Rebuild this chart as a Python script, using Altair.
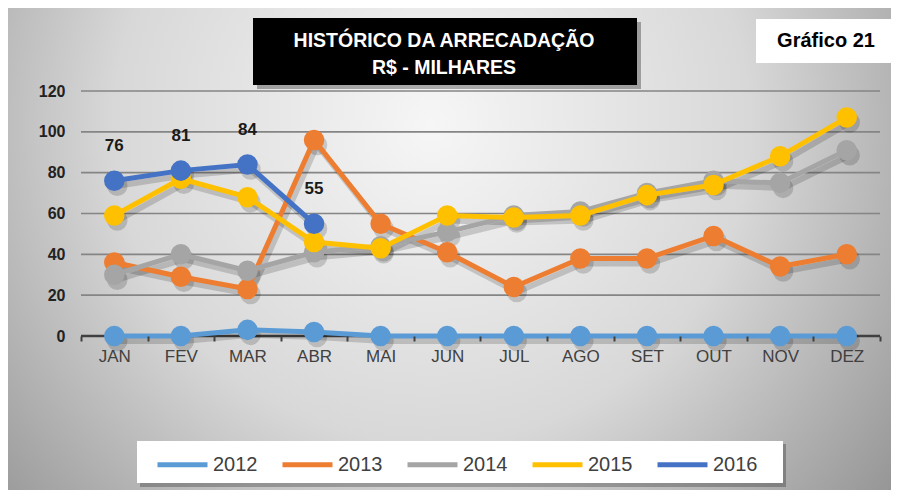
import altair as alt
import pandas as pd

months = ["JAN", "FEV", "MAR", "ABR", "MAI", "JUN", "JUL", "AGO", "SET", "OUT", "NOV", "DEZ"]
years = ["2012", "2013", "2014", "2015", "2016"]
colors = ["#5B9BD5", "#ED7D31", "#A5A5A5", "#FFC000", "#4472C4"]
v2012 = [0, 0, 3, 2, 0, 0, 0, 0, 0, 0, 0, 0]
v2013 = [36, 29, 23, 96, 55, 41, 24, 38, 38, 49, 34, 40]
v2014 = [30, 40, 32, 41, 44, 51, 59, 61, 70, 76, 75, 91]
v2015 = [59, 77, 68, 46, 43, 59, 58, 59, 69, 74, 88, 107]
v2016 = [76, 81, 84, 55]
y_ticks = [0, 20, 40, 60, 80, 100, 120]
title_lines = ["HISTÓRICO DA ARRECADAÇÃO", "R$ - MILHARES"]
badge_text = "Gráfico 21"

series = [v2012, v2013, v2014, v2015, v2016]
rows = []
for yr, vals in zip(years, series):
    for m, v in zip(months, vals):
        rows.append({"month": m, "value": v, "year": yr})
df = pd.DataFrame(rows)
one = pd.DataFrame({"k": [0]})
grid_df = pd.DataFrame({"value": y_ticks[1:]})
zero_df = pd.DataFrame({"value": y_ticks[:1]})

FONT = "Liberation Sans"

xenc = alt.X("month:N", sort=months,
             scale=alt.Scale(type="band", domain=months, paddingInner=0, paddingOuter=0),
             axis=alt.Axis(title=None, tickBand="extent", labelFontSize=17, labelColor="#404040",
                           labelPadding=7, tickSize=5, tickColor="#404040", tickWidth=2,
                           domain=False, labelAngle=0, grid=False, zindex=1))
yscale = alt.Scale(domain=[0, 120], nice=False)
yaxis = alt.Axis(title=None, values=y_ticks, grid=False,
                 domain=False, ticks=False, labelFontSize=16, labelFontWeight="bold",
                 labelColor="#222222", labelPadding=16, zindex=1)
yenc = alt.Y("value:Q", scale=yscale, axis=yaxis)

color_scale = alt.Scale(domain=years, range=colors)
legend = alt.Legend(orient="none", legendX=74, legendY=346, direction="horizontal", columns=5,
                    symbolType="stroke", symbolSize=2500, symbolStrokeWidth=5, labelFontSize=20,
                    labelColor="#404040", labelFont=FONT, columnPadding=14, labelOffset=3,
                    padding=0, title=None, symbolOpacity=1)
cenc = alt.Color("year:N", scale=color_scale, legend=legend)

bg = alt.Chart(one).mark_rect(
    color=alt.RadialGradient(gradient="radial", x1=0.48, y1=0.36, x2=0.48, y2=0.36, r1=0, r2=0.72,
                             stops=[alt.GradientStop(offset=0, color="#f6f6f6"),
                                    alt.GradientStop(offset=0.5, color="#d8d8d8"),
                                    alt.GradientStop(offset=1, color="#8a8a8a")])
).encode(x=alt.value(-73), x2=alt.value(810), y=alt.value(-83), y2=alt.value(399))

grid = alt.Chart(grid_df).mark_rule(color="#858585", strokeWidth=1.6).encode(y=yenc)
zero = alt.Chart(zero_df).mark_rule(color="#404040", strokeWidth=2.5).encode(y=yenc)

base = alt.Chart(df).encode(x=xenc, y=yenc)

shadow_line = base.mark_line(color="black", opacity=0.16, strokeWidth=6, xOffset=3, yOffset=5).encode(
    detail="year:N")
shadow_pt = base.mark_circle(color="black", opacity=0.16, size=420, xOffset=3, yOffset=5)

layers = [shadow_line, shadow_pt]
for yr in years:
    sub = base.transform_filter(alt.datum.year == yr)
    layers.append(sub.mark_line(strokeWidth=5).encode(color=cenc))
    layers.append(sub.mark_circle(size=420, opacity=1).encode(color=cenc))

labels = base.transform_filter(alt.datum.year == "2016").mark_text(
    dy=-35, fontSize=17, fontWeight="bold", color="#1a1a1a", font=FONT
).encode(text=alt.Text("value:Q"))
layers.append(labels)

# title box
title_shadow = alt.Chart(one).mark_rect(color="black", opacity=0.3).encode(
    x=alt.value(176), x2=alt.value(560), y=alt.value(-69), y2=alt.value(-2))
title_box = alt.Chart(one).mark_rect(color="black").encode(
    x=alt.value(172), x2=alt.value(556), y=alt.value(-73), y2=alt.value(-6))
t1 = alt.Chart(one).mark_text(text=title_lines[0], color="white", fontSize=19.5, fontWeight="bold",
                              font=FONT, align="center", baseline="middle").encode(
    x=alt.value(363), y=alt.value(-50))
t2 = alt.Chart(one).mark_text(text=title_lines[1], color="white", fontSize=19.5, fontWeight="bold",
                              font=FONT, align="center", baseline="middle").encode(
    x=alt.value(363), y=alt.value(-23))
badge_box = alt.Chart(one).mark_rect(color="white").encode(
    x=alt.value(675), x2=alt.value(818), y=alt.value(-72), y2=alt.value(-28))
badge = alt.Chart(one).mark_text(text=badge_text, color="black", fontSize=20, fontWeight="bold",
                                 font=FONT, align="center", baseline="middle").encode(
    x=alt.value(745), y=alt.value(-50))
leg_shadow = alt.Chart(one).mark_rect(color="black", opacity=0.25).encode(
    x=alt.value(59), x2=alt.value(705), y=alt.value(353), y2=alt.value(396))
leg_box = alt.Chart(one).mark_rect(color="white").encode(
    x=alt.value(56), x2=alt.value(702), y=alt.value(350), y2=alt.value(392))

chart = alt.layer(bg, leg_shadow, leg_box, title_shadow, title_box, t1, t2, badge_box, badge,
                  grid, zero, *layers).properties(
    width=799, height=245,
    autosize=alt.AutoSizeParams(type="none"),
    padding={"left": 73, "top": 83, "right": 11, "bottom": 154},
).configure_view(stroke=None).configure_axis(labelFont=FONT).configure(background="#9a9a9a")

chart.save("out.html", embed_options={"renderer": "svg", "actions": False})
